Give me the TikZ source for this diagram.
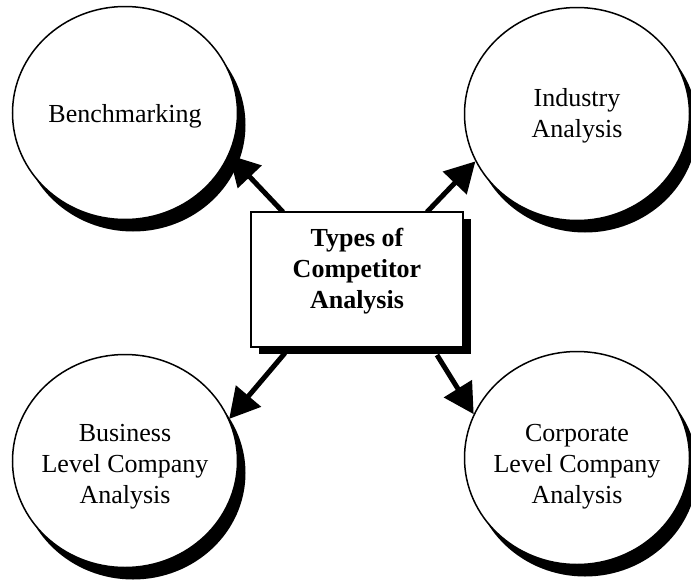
\documentclass[tikz,border=0pt]{standalone}
\usepackage{fontspec}
\setmainfont{Liberation Serif}
\usetikzlibrary{shapes.geometric,shadows,arrows.meta}
\tikzset{
  bubble/.style={ellipse, draw=black, line width=1.5pt, fill=white, inner sep=0pt,
    minimum width=225pt, minimum height=213pt,
    drop shadow={shadow xshift=8pt, shadow yshift=-12pt, opacity=1, fill=black}},
  bubtext/.style={align=center, font=\fontsize{26pt}{31pt}\selectfont, inner sep=0pt},
  centerbox/.style={rectangle, draw=black, line width=2.5pt, fill=white, inner sep=0pt,
    minimum width=212pt, minimum height=135pt,
    drop shadow={shadow xshift=8pt, shadow yshift=-7pt, opacity=1, fill=black}},
  boxtext/.style={align=center, font=\bfseries\fontsize{26pt}{31pt}\selectfont, inner sep=0pt},
  conn/.style={line width=5pt, -{Triangle[length=30pt, width=32pt]}}
}
\begin{document}
\begin{tikzpicture}[x=1pt,y=-1pt]
\useasboundingbox[fill=white] (0,0) rectangle (691,579);
\node[bubble] (bench) at (125,113) {};
\node[bubble] (indus) at (577,114) {};
\node[bubble] (busin) at (125,461) {};
\node[bubble] (corp) at (577,458) {};
\node[bubtext] (benchT) at (125,116) {Benchmarking};
\node[bubtext] (indusT) at (577,116) {Industry\\Analysis};
\node[bubtext] (businT) at (125,467) {Business\\Level Company\\Analysis};
\node[bubtext] (corpT) at (577,467) {Corporate\\Level Company\\Analysis};
\coordinate (s1) at (283,212);
\coordinate (s2) at (427,212);
\coordinate (s3) at (285,353);
\coordinate (s4) at (437,355);
\draw[conn] (s1) -- (bench.-22);
\draw[conn] (s2) -- (indus.-155);
\draw[conn] (s3) -- (busin.22);
\draw[conn] (s4) -- (corp.157);
\node[centerbox] (box) at (357,279.5) {};
\node[boxtext] (boxT) at (357,271) {Types of\\Competitor\\Analysis};
\end{tikzpicture}
\end{document}
